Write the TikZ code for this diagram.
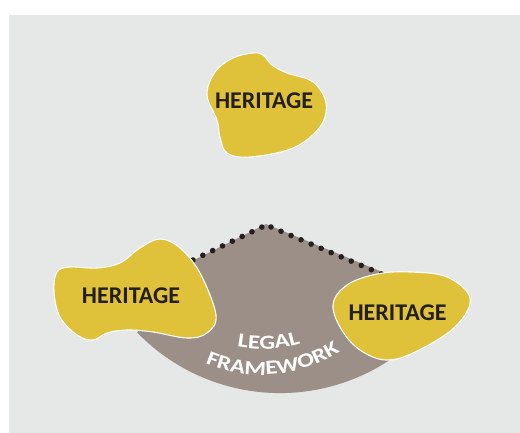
\documentclass[tikz,border=0pt]{standalone}
\usepackage{fontspec}
\usetikzlibrary{decorations.text}
\setmainfont{Carlito}
\newfontfamily\arcfont[FakeStretch=1.24]{Carlito}
\definecolor{bgrey}{HTML}{E6E8E7}
\definecolor{fanbrown}{HTML}{9C8F87}
\definecolor{blobyellow}{HTML}{DFC13A}
\definecolor{inkdark}{HTML}{231F20}
\tikzset{
  blob/.style={fill=blobyellow,draw=white,line width=1.1pt},
  blobtext/.style={text=inkdark,font=\fontsize{24}{24}\selectfont\bfseries,inner sep=0pt},
  dotline/.style={draw=inkdark,line width=5.6pt,line cap=round,dash pattern=on 0pt off 10.9pt},
  arctext/.style={decorate,decoration={text along path,text align=center,text format delimiters={|}{|},text={#1}}}
}
\begin{document}
\begin{tikzpicture}[x=1pt,y=-1pt]
\useasboundingbox (0,0) rectangle (520,433);
\fill[white] (0,0) rectangle (520,433);
\fill[bgrey] (9,15) rectangle (520,433);
% coordinates
\coordinate (apex) at (266,224);
\coordinate (fanL) at (190,262);
\coordinate (fanR) at (392,276);
\coordinate (dotLa) at (193,260);
\coordinate (dotLb) at (262,227);
\coordinate (dotRa) at (271,227);
\coordinate (dotRb) at (385,275.5);
% fan
\fill[fanbrown] (apex) -- (fanR) -- plot[domain=56:136,samples=60,smooth] ({280+198.6*cos(\x)},{194.5+198.6*sin(\x)}) -- (fanL) -- cycle;
\path[dotline] (dotLa) -- (dotLb);
\path[dotline] (dotRa) -- (dotRb);
% blobs
\draw[blob] plot[smooth cycle,tension=0.6] coordinates {(233,58) (253,53) (263,55) (272,65) (287,73) (313,82) (326,103) (320,127) (293,148) (250,157) (227,153) (220,137) (217,120) (207,95) (215,72)};
\draw[blob] plot[smooth cycle,tension=0.6] coordinates {(160,239) (180,248) (200,273) (216,315) (207,333) (187,338) (153,332) (127,330) (107,333) (93,340) (77,335) (60,317) (54,292) (57,272) (70,267) (97,268) (120,263) (140,248)};
\draw[blob] plot[smooth cycle,tension=0.62] coordinates {(410,272) (447,277) (470,298) (457,325) (423,348) (390,360) (363,352) (343,332) (333,305) (347,285) (377,274)};
% labels
\node[blobtext] (h1) at (264,101) {HERITAGE};
\node[blobtext] (h2) at (131,296) {HERITAGE};
\node[blobtext] (h3) at (397.5,313) {HERITAGE};
\path[arctext={|\arcfont\fontsize{20}{20}\selectfont\bfseries\color{white}|LEGAL}] (222,343) .. controls (255,352) and (285,351) .. (315,338);
\path[arctext={|\arcfont\fontsize{20}{20}\selectfont\bfseries\color{white}|FRAMEWORK}] (190,356) .. controls (245,384) and (300,382) .. (354,342);
\end{tikzpicture}
\end{document}
